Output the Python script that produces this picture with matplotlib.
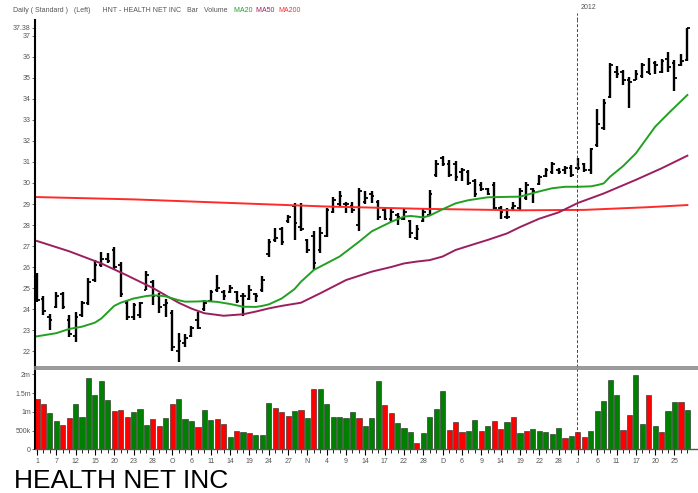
import matplotlib
matplotlib.use("Agg")
import matplotlib.pyplot as plt
import numpy as np

plt.rcParams['font.family'] = ['Liberation Sans', 'DejaVu Sans']

# Daily bars, 1 Sep 2011 .. 27 Jan 2012 (bar index 0..101)
highs = [25.7, 24.6, 23.75, 24.8, 24.8, 23.7, 23.85, 24.4, 25.5, 26.33, 26.73, 26.65, 26.95, 26.25,
         24.4, 24.3, 24.35, 25.8, 25.4, 24.75, 24.5, 23.95, 22.85, 22.8, 23.2, 23.85,
         24.45, 24.9, 25.6, 24.9, 25.15, 24.85, 24.75, 25.15, 24.75, 25.55, 27.35, 27.85, 27.9, 28.5,
         29.05, 29.05, 27.35, 27.7, 27.9, 28.8, 29.35, 29.6, 29.1, 29.1, 29.75, 29.6,
         29.6, 29.2, 28.8, 28.8, 28.55, 28.8, 28.25, 28.0, 28.8, 29.65, 31.1, 31.3, 31.1, 31.05,
         30.7, 30.6, 30.2, 30.05, 29.75, 30.05, 28.9, 28.8, 29.1, 29.75, 30.05, 29.75,
         30.4, 30.7, 31.0, 30.7, 30.8, 30.85, 31.2, 30.95, 31.65, 33.5, 34.0, 35.7, 35.55, 35.4,
         35.05, 35.4, 35.7, 35.95, 35.8, 35.9, 36.25, 35.85, 36.15, 37.4]
lows = [24.35, 23.7, 23.0, 24.05, 24.0, 22.65, 22.45, 23.6, 24.2, 25.3, 26.0, 26.17, 25.9, 24.55,
        23.5, 23.48, 23.56, 24.9, 24.2, 23.8, 23.6, 22.0, 21.5, 22.2, 22.65, 23.05,
        23.9, 24.35, 24.8, 24.45, 24.75, 24.3, 23.65, 24.45, 24.35, 24.8, 26.5, 27.2, 27.05, 28.1,
        27.3, 27.7, 26.65, 25.85, 26.65, 27.45, 28.55, 28.9, 28.55, 28.55, 27.7, 29.0,
        29.05, 28.25, 28.25, 28.15, 28.0, 28.25, 27.4, 27.3, 28.15, 28.45, 30.3, 30.8, 30.3, 30.1,
        30.1, 29.9, 29.35, 29.6, 29.45, 28.7, 28.3, 28.3, 28.7, 28.7, 29.2, 29.05,
        29.9, 30.3, 30.45, 30.45, 30.45, 30.3, 30.6, 30.5, 30.45, 31.7, 32.5, 34.05, 35.0, 34.65,
        33.55, 34.9, 35.0, 35.2, 35.2, 35.25, 35.3, 34.4, 35.55, 35.8]
opens = [25.4, 24.5, 23.6, 24.1, 24.7, 23.5, 22.7, 23.7, 24.3, 25.4, 26.1, 26.4, 26.8, 26.1,
         24.3, 23.6, 23.7, 24.9, 25.3, 24.6, 24.2, 23.8, 22.0, 22.4, 22.7, 23.5,
         24.0, 24.4, 24.9, 24.8, 24.8, 24.8, 24.6, 24.5, 24.7, 24.9, 26.6, 27.3, 27.8, 28.2,
         28.9, 27.9, 27.3, 27.5, 26.8, 27.5, 28.6, 29.0, 29.0, 28.9, 28.0, 29.1,
         29.5, 29.1, 28.7, 28.3, 28.5, 28.3, 28.2, 27.4, 28.2, 28.5, 30.4, 31.2, 30.9, 30.9,
         30.5, 30.5, 30.1, 29.9, 29.7, 29.9, 28.8, 28.4, 28.8, 28.8, 29.3, 29.7,
         29.95, 30.35, 30.5, 30.6, 30.6, 30.7, 30.7, 30.9, 30.6, 31.8, 32.6, 34.1, 35.3, 35.3,
         34.9, 34.9, 35.1, 35.3, 35.7, 35.3, 35.9, 35.7, 35.6, 35.85]
closes = [24.45, 23.9, 23.5, 24.6, 24.1, 22.8, 23.6, 24.3, 25.3, 26.1, 26.4, 26.3, 26.0, 24.7,
          23.6, 24.2, 24.3, 25.6, 24.6, 24.1, 24.3, 22.2, 22.5, 22.6, 23.1, 23.1,
          24.3, 24.8, 25.0, 24.6, 25.0, 24.4, 24.6, 24.9, 24.6, 25.4, 27.2, 27.4, 27.2, 28.4,
          28.1, 27.8, 26.8, 26.2, 27.6, 28.7, 29.2, 29.4, 29.0, 28.7, 29.6, 29.3,
          29.4, 28.4, 28.3, 28.6, 28.4, 28.6, 27.6, 27.8, 28.6, 29.5, 30.9, 30.9, 30.4, 30.3,
          30.6, 30.0, 29.5, 29.7, 29.5, 28.8, 28.6, 28.4, 28.9, 29.6, 29.9, 29.6,
          30.3, 30.6, 30.9, 30.5, 30.7, 30.4, 30.7, 30.6, 31.6, 32.8, 33.8, 35.6, 35.2, 34.9,
          34.8, 35.2, 35.6, 35.2, 35.6, 35.8, 35.5, 35.0, 35.8, 37.38]

# volume in millions, with bar colour as shown
volume = [1.33, 1.21, 0.98, 0.76, 0.64, 0.84, 1.22, 0.87, 1.89, 1.46, 1.83, 1.31, 1.02, 1.05,
          0.87, 0.99, 1.08, 0.66, 0.80, 0.61, 0.84, 1.21, 1.33, 0.82, 0.76, 0.60,
          1.04, 0.78, 0.80, 0.67, 0.32, 0.49, 0.46, 0.43, 0.38, 0.37, 1.24, 1.11, 1.00, 0.89,
          1.02, 1.05, 0.83, 1.60, 1.60, 1.20, 0.85, 0.86, 0.84, 1.00, 0.83, 0.62,
          0.83, 1.83, 1.18, 0.96, 0.71, 0.58, 0.47, 0.18, 0.43, 0.85, 1.08, 1.56, 0.52, 0.74,
          0.45, 0.50, 0.77, 0.49, 0.62, 0.75, 0.55, 0.73, 0.87, 0.43, 0.49, 0.54,
          0.49, 0.46, 0.40, 0.58, 0.29, 0.36, 0.45, 0.32, 0.49, 1.03, 1.29, 1.85, 1.46, 0.52,
          0.92, 1.98, 0.68, 1.46, 0.62, 0.46, 1.02, 1.25, 1.27, 1.05]
vol_colour = list("rrggrrggggggrrrgggrrgrgggrggrrgrgrgggrrrgrgrggggggrgg"
                  "grrgggrggggrrrggrgrrgrgrgggggrgrrgggggrrggrgrggrgrrg")
vol_colour = vol_colour[:102]

# moving averages (bar index, price)
ma20_idx = [0, 3, 5, 7, 9, 10, 11, 12, 13, 15, 17, 18, 19, 20, 22, 23, 25, 26, 28, 30, 32,
            34, 35, 36, 38, 40, 41, 43, 47, 50, 52, 55, 57, 58, 59, 60, 61, 63, 65, 67, 70,
            73, 75, 78, 80, 82, 84, 86, 87, 88, 89, 91, 93, 96, 98, 101]
ma20 = [22.7, 22.85, 23.05, 23.16, 23.35, 23.55, 23.85, 24.15, 24.3, 24.5, 24.62, 24.65,
        24.64, 24.6, 24.42, 24.35, 24.36, 24.38, 24.34, 24.24, 24.11, 24.1, 24.15, 24.22,
        24.5, 24.95, 25.3, 25.86, 26.5, 27.2, 27.7, 28.15, 28.4, 28.43, 28.4, 28.36, 28.45,
        28.75, 29.03, 29.18, 29.32, 29.34, 29.35, 29.6, 29.75, 29.82, 29.82, 29.84, 29.9,
        29.98, 30.3, 30.8, 31.41, 32.68, 33.3, 34.19]
ma50_idx = [0, 5, 10, 14, 18, 20, 22, 24, 26, 29, 32, 34, 36, 38, 41, 44, 48, 52, 55, 57,
            59, 61, 63, 65, 68, 70, 73, 75, 78, 81, 84, 88, 93, 97, 101]
ma50 = [27.24, 26.75, 26.17, 25.6, 25.0, 24.65, 24.3, 24.02, 23.8, 23.68, 23.75, 23.88,
        24.03, 24.15, 24.3, 24.75, 25.38, 25.78, 26.0, 26.17, 26.26, 26.33, 26.5, 26.81,
        27.1, 27.29, 27.6, 27.9, 28.3, 28.6, 29.05, 29.5, 30.15, 30.7, 31.3]
ma200_idx = [0, 15, 30, 45, 60, 75, 85, 95, 101]
ma200 = [29.33, 29.22, 29.05, 28.88, 28.77, 28.7, 28.72, 28.85, 28.95]

tick_pos = [0, 3, 6, 9, 12, 15, 18, 21, 24, 27, 30, 33, 36, 39, 42, 45, 48, 51, 54, 57, 60,
            63, 66, 69, 72, 75, 78, 81, 84, 87, 90, 93, 96, 99]
tick_lab = ['1', '7', '12', '15', '20', '23', '28', 'O', '6', '11', '14', '19', '24', '27',
            'N', '4', '9', '14', '17', '22', '28', 'D', '6', '9', '14', '19', '22', '28',
            'J', '6', '11', '17', '20', '25']
year_bar = 84

W, H = 698, 493
fig = plt.figure(figsize=(W / 100, H / 100), dpi=100)
ax = fig.add_axes([35 / W, 1 - 367 / H, 663 / W, 347 / H])
axv = fig.add_axes([35 / W, 1 - 449.3 / H, 663 / W, 80.3 / H])

x = np.arange(len(highs))
xmin, xmax = -0.3, -0.3 + 663 / 6.44
TXT = '#555555'

# price bars
ax.vlines(x, lows, highs, color='black', lw=1.7)
ax.hlines(opens, x - 0.4, x, color='black', lw=1.3)
ax.hlines(closes, x, x + 0.4, color='black', lw=1.3)

ax.plot(ma200_idx, ma200, color='#ff2a2a', lw=1.4, solid_joinstyle='round')
ax.plot(ma50_idx, ma50, color='#9b1f5e', lw=1.4, solid_joinstyle='round')
ax.plot(ma20_idx, ma20, color='#22a022', lw=1.4, solid_joinstyle='round')

ax.set_xlim(xmin, xmax)
ax.set_ylim(21.24, 37.76)
yt = list(range(22, 38))
ax.set_yticks(yt + [37.38])
ax.set_yticklabels([str(v) for v in yt] + ['37.38'])
ax.tick_params(axis='y', labelsize=5, colors=TXT, length=2, width=0.6, pad=1)
ax.tick_params(axis='x', bottom=False, labelbottom=False)
for s in ['top', 'right']:
    ax.spines[s].set_visible(False)
ax.spines['left'].set_linewidth(1.5)
ax.spines['bottom'].set_color('#888888')
ax.spines['bottom'].set_linewidth(1.2)

# volume
cmap = {'g': '#008000', 'r': '#ff0000'}
axv.bar(x, volume, width=0.8, color=[cmap[c] for c in vol_colour],
        edgecolor='#222222', linewidth=0.4)
axv.set_xlim(xmin, xmax)
axv.set_ylim(0, 2.14)
axv.set_yticks([0, 0.5, 1, 1.5, 2])
axv.set_yticklabels(['0', '500k', '1m', '1.5m', '2m'])
axv.set_xticks(tick_pos)
axv.set_xticklabels(tick_lab)
axv.set_xticks(x, minor=True)
axv.tick_params(axis='x', which='major', labelsize=5, colors=TXT, length=4, width=0.8, pad=2)
axv.tick_params(axis='x', which='minor', length=3, width=0.6, color='black')
axv.tick_params(axis='x', which='major', color='black')
axv.tick_params(axis='y', labelsize=5, colors=TXT, length=2, width=0.6, pad=1)
axv.spines['right'].set_visible(False)
axv.spines['top'].set_color('#888888')
axv.spines['top'].set_linewidth(1.2)
axv.spines['left'].set_linewidth(1.5)
axv.spines['bottom'].set_color('#555555')
axv.spines['bottom'].set_linewidth(1.0)

# start of 2012
for a in (ax, axv):
    a.axvline(year_bar - 0.2, color='#444444', lw=0.7, ls=(0, (3, 2)), clip_on=False)
ax.plot([year_bar - 0.2, year_bar - 0.2], [37.76, 38.1], color='#444444', lw=0.7,
        ls=(0, (3, 2)), clip_on=False)
ax.text(year_bar + 1.6, 38.2, '2012', fontsize=5, color=TXT, ha='center', va='bottom')

# header line
hx = 13 / W
hy = 1 - 11 / H
parts = [('Daily ( Standard )   (Left)      HNT - HEALTH NET INC   Bar   Volume   ', '#555555'),
         ('MA20  ', '#22a022'), ('MA50  ', '#9b1f5e'), ('MA200', '#ff2a2a')]
r = fig.canvas.get_renderer()
for txt, col in parts:
    t = fig.text(hx, hy, txt, fontsize=5, color=col, va='center', ha='left')
    bb = t.get_window_extent(renderer=r)
    hx += bb.width / W

fig.text(14 / W, 1 - 481 / H, 'HEALTH NET INC', fontsize=19, color='black',
         va='center', ha='left')

fig.savefig('out.png', dpi=100)
